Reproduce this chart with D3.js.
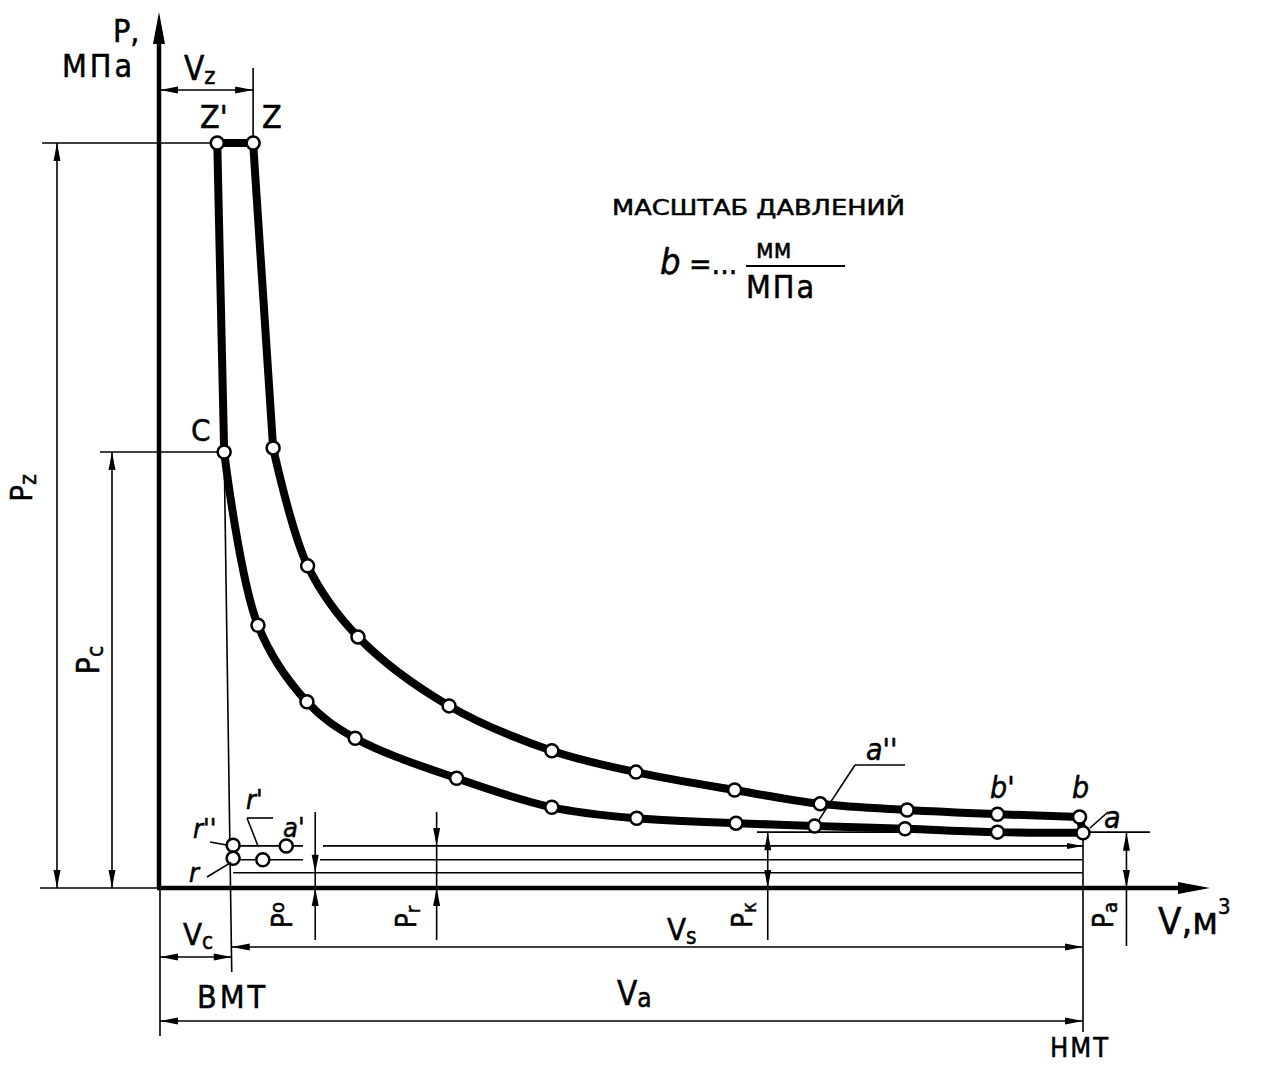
<!DOCTYPE html>
<html>
<head>
<meta charset="utf-8">
<script src="https://cdn.jsdelivr.net/npm/d3@7"></script>
<style>
  body { margin: 0; background: #fff; }
  text { font-family: "DejaVu Sans Condensed", "Liberation Sans Narrow", "DejaVu Sans", sans-serif; fill: #000; stroke: #000; stroke-width: 0.5; }
</style>
</head>
<body>
<svg id="chart"></svg>
<script>
// V in units of Vc-ish (scale), P in MPa
const compression = [[0.93, 6.32], [1.42, 3.81], [2.13, 2.70], [2.83, 2.17], [4.30, 1.59], [5.68, 1.17],
  [6.91, 1.01], [8.35, 0.94], [9.49, 0.90], [10.80, 0.86], [12.14, 0.81], [13.38, 0.80]];
const expansion = [[1.64, 6.38], [2.14, 4.67], [2.87, 3.64], [4.19, 2.64], [5.68, 1.99], [6.90, 1.68],
  [8.33, 1.42], [9.57, 1.22], [10.83, 1.13], [12.14, 1.07], [13.33, 1.03]];
const zPoints = [[0.83, 10.8], [1.35, 10.8]];           // z', z
const gasPoints = [[1.06, 0.62], [1.06, 0.43], [1.49, 0.41], [1.83, 0.61]]; // r'', r, r', a'
const Vc = 1.04, Vz = 1.35, Va = 13.38;
const Pz = 10.8, Pc = 6.32, Pa = 0.80, Pk = 0.81;
const exhaustP = [0.61, 0.41, 0.22];  // pr line, intake line, p0 line
const dimV = { P0: 2.25, Pr: 4.01, Pk: 8.81, Pa: 14.01 };

const svg = d3.select("#chart").attr("width", 1265).attr("height", 1065);
const g = svg.append("g");

const x = d3.scaleLinear().domain([0, Va]).range([160, 1083]);
const y = d3.scaleLinear().domain([0, Pz]).range([888, 143]);

function seg(x1, y1, x2, y2, w) {
  g.append("line").attr("x1", x1).attr("y1", y1).attr("x2", x2).attr("y2", y2)
    .attr("stroke", "#000").attr("stroke-width", w || 1.6).attr("stroke-linecap", "butt");
}
function arrow(tx, ty, dir, len, hw) {
  len = len || 18; hw = hw || 3.5;
  const d = { up: [0, 1], down: [0, -1], left: [1, 0], right: [-1, 0] }[dir];
  const bx = tx + d[0] * len, by = ty + d[1] * len;
  const px = -d[1] * hw, py = d[0] * hw;
  g.append("path").attr("d", `M${tx},${ty}L${bx + px},${by + py}L${bx - px},${by - py}Z`).attr("fill", "#000");
}
function label(xp, yp, parts, size, opts) {
  opts = opts || {};
  const t = g.append("text").attr("font-size", size);
  if (opts.rotate) t.attr("transform", `translate(${xp},${yp}) rotate(-90)`).attr("text-anchor", "middle");
  else t.attr("x", xp).attr("y", yp);
  if (opts.italic) t.attr("font-style", "italic");
  if (opts.spacing) t.attr("letter-spacing", opts.spacing);
  parts.forEach(p => {
    if (typeof p === "string") t.append("tspan").text(p);
    else t.append("tspan").text(p.t).attr("font-size", p.size || size * 0.72)
      .attr("dy", p.dy || 0).attr("font-style", p.italic ? "italic" : null);
  });
  return t;
}

// axes
seg(x(0) - 1, y(0), x(0) - 1, 30, 4.5);
arrow(x(0) - 1, 12, "up", 32, 6);
seg(x(0) - 3, y(0), 1190, y(0), 4.5);
arrow(1210, y(0), "right", 32, 6);
seg(40, y(0), x(0), y(0), 1.6);

// pressure dimensions on the left
seg(42, y(Pz), x(zPoints[0][0]), y(Pz));
seg(100, y(Pc), x(compression[0][0]), y(Pc));
seg(57, y(Pz), 57, y(0)); arrow(57, y(Pz), "up"); arrow(57, y(0), "down");
seg(112, y(Pc), 112, y(0)); arrow(112, y(Pc), "up"); arrow(112, y(0), "down");

// Vz dimension
seg(x(0), 90, x(Vz), 90); arrow(x(0), 90, "left"); arrow(x(Vz), 90, "right");
seg(x(Vz), 68, x(Vz), y(Pz));

// TDC / BDC verticals
seg(x(compression[0][0]), y(Pc), x(Vc), 972);
seg(x(Va), y(expansion[expansion.length - 1][1]), x(Va), 1032);
seg(x(0), y(0), x(0), 1036);

// exhaust / intake lines
seg(x(gasPoints[0][0]), y(exhaustP[0]), 303, y(exhaustP[0]));
seg(323, y(exhaustP[0]), x(Va), y(exhaustP[0])); arrow(x(Va), y(exhaustP[0]), "right", 16, 3);
seg(x(gasPoints[1][0]), y(exhaustP[1]), 303, y(exhaustP[1]));
seg(320, y(exhaustP[1]), x(Va), y(exhaustP[1]));
seg(x(gasPoints[1][0]), y(exhaustP[2]), x(Va), y(exhaustP[2]));
seg(757, y(Pk), 1150, y(Pk));

// pressure dimensions below
seg(x(dimV.P0), 812, x(dimV.P0), 940); arrow(x(dimV.P0), y(exhaustP[2]), "down"); arrow(x(dimV.P0), y(0), "up");
seg(x(dimV.Pr), 812, x(dimV.Pr), 940); arrow(x(dimV.Pr), y(exhaustP[0]), "down"); arrow(x(dimV.Pr), y(0), "up");
seg(x(dimV.Pk), y(Pk), x(dimV.Pk), 940); arrow(x(dimV.Pk), y(Pk), "up"); arrow(x(dimV.Pk), y(0), "down");
seg(x(dimV.Pa), y(Pa), x(dimV.Pa), 946); arrow(x(dimV.Pa), y(Pa), "up"); arrow(x(dimV.Pa), y(0), "down");

// volume dimensions
seg(x(0), 957, x(Vc), 957); arrow(x(0), 957, "left"); arrow(x(Vc), 957, "right");
seg(x(Vc), 947, x(Va), 947); arrow(x(Vc), 947, "left"); arrow(x(Va), 947, "right");
seg(x(0), 1021, x(Va), 1021); arrow(x(0), 1021, "left"); arrow(x(Va), 1021, "right");

// cycle lines
const straight = d3.line().x(d => x(d[0])).y(d => y(d[1]));
const smooth = d3.line().x(d => x(d[0])).y(d => y(d[1])).curve(d3.curveCatmullRom.alpha(0.5));
const thick = p => g.append("path").attr("d", p).attr("fill", "none").attr("stroke", "#000")
  .attr("stroke-width", 8).attr("stroke-linejoin", "round").attr("stroke-linecap", "round");
thick(straight([zPoints[0], zPoints[1]]));
thick(straight([zPoints[0], compression[0]]));
thick(straight([zPoints[1], expansion[0]]));
thick(smooth(expansion));
thick(smooth(compression));
thick(straight([expansion[expansion.length - 1], compression[compression.length - 1]]));

// markers
g.selectAll("circle.pt")
  .data(zPoints.concat(compression, expansion, gasPoints))
  .join("circle")
  .attr("class", "pt")
  .attr("cx", d => x(d[0])).attr("cy", d => y(d[1]))
  .attr("r", 6.5).attr("fill", "#fff").attr("stroke", "#000").attr("stroke-width", 2.5);

// leaders
seg(210, 842, x(gasPoints[0][0]) - 5, y(gasPoints[0][1]));
seg(207, 877, x(gasPoints[1][0]) - 2, y(gasPoints[1][1]) + 4);
seg(247, 818, 273, 818); seg(247, 818, 258, 846);
seg(855, 765, 905, 765); seg(855, 765, x(compression[8][0]) + 3, y(compression[8][1]) - 4);
seg(1090, 828, 1108, 812);

// texts
label(113, 42, ["P,"], 32);
label(62, 77, ["МПа"], 32, { spacing: 3 });
label(184, 80, ["V", { t: "z", dy: 4 }], 33);
label(200, 128, ["Z'"], 32);
label(262, 128, ["Z"], 32);
label(191, 441, ["C"], 31);
label(32, 488, ["P", { t: "z", dy: 4 }], 31, { rotate: true });
label(99, 660, ["P", { t: "c", dy: 4 }], 32, { rotate: true });

label(612, 215, ["МАСШТАБ  ДАВЛЕНИЙ"], 22).attr("textLength", 293).attr("lengthAdjust", "spacingAndGlyphs");
label(660, 274, ["b"], 36, { italic: true });
label(689, 274, ["=..."], 30);
label(756, 258, ["мм"], 26);
seg(746, 266, 845, 266, 1.8);
label(746, 298, ["МПа"], 32, { spacing: 2 });

label(193, 838, ["r''"], 27, { italic: true });
label(189, 882, ["r"], 27, { italic: true });
label(246, 809, ["r'"], 27, { italic: true });
label(283, 837, ["a'"], 27, { italic: true });
label(866, 760, ["a''"], 30, { italic: true });
label(990, 798, ["b'"], 30, { italic: true });
label(1072, 798, ["b"], 30, { italic: true });
label(1104, 828, ["a"], 30, { italic: true });

label(1158, 934, ["V,м", { t: "3", dy: -20, size: 22 }], 38);
label(183, 945, ["V", { t: "c", dy: 4 }], 31);
label(667, 940, ["V", { t: "s", dy: 4 }], 31);
label(617, 1005, ["V", { t: "a", dy: 2, size: 26 }], 33);
label(197, 1008, ["ВМТ"], 32, { spacing: 3 });
label(1050, 1057, ["НМТ"], 27, { spacing: 2 });

label(292, 915, ["P", { t: "o", dy: -8 }], 28, { rotate: true });
label(416, 917, ["P", { t: "r", dy: 4 }], 28, { rotate: true });
label(752, 915, ["P", { t: "к", dy: 4 }], 28, { rotate: true });
label(1113, 915, ["P", { t: "a", dy: 4 }], 28, { rotate: true });
</script>
</body>
</html>
